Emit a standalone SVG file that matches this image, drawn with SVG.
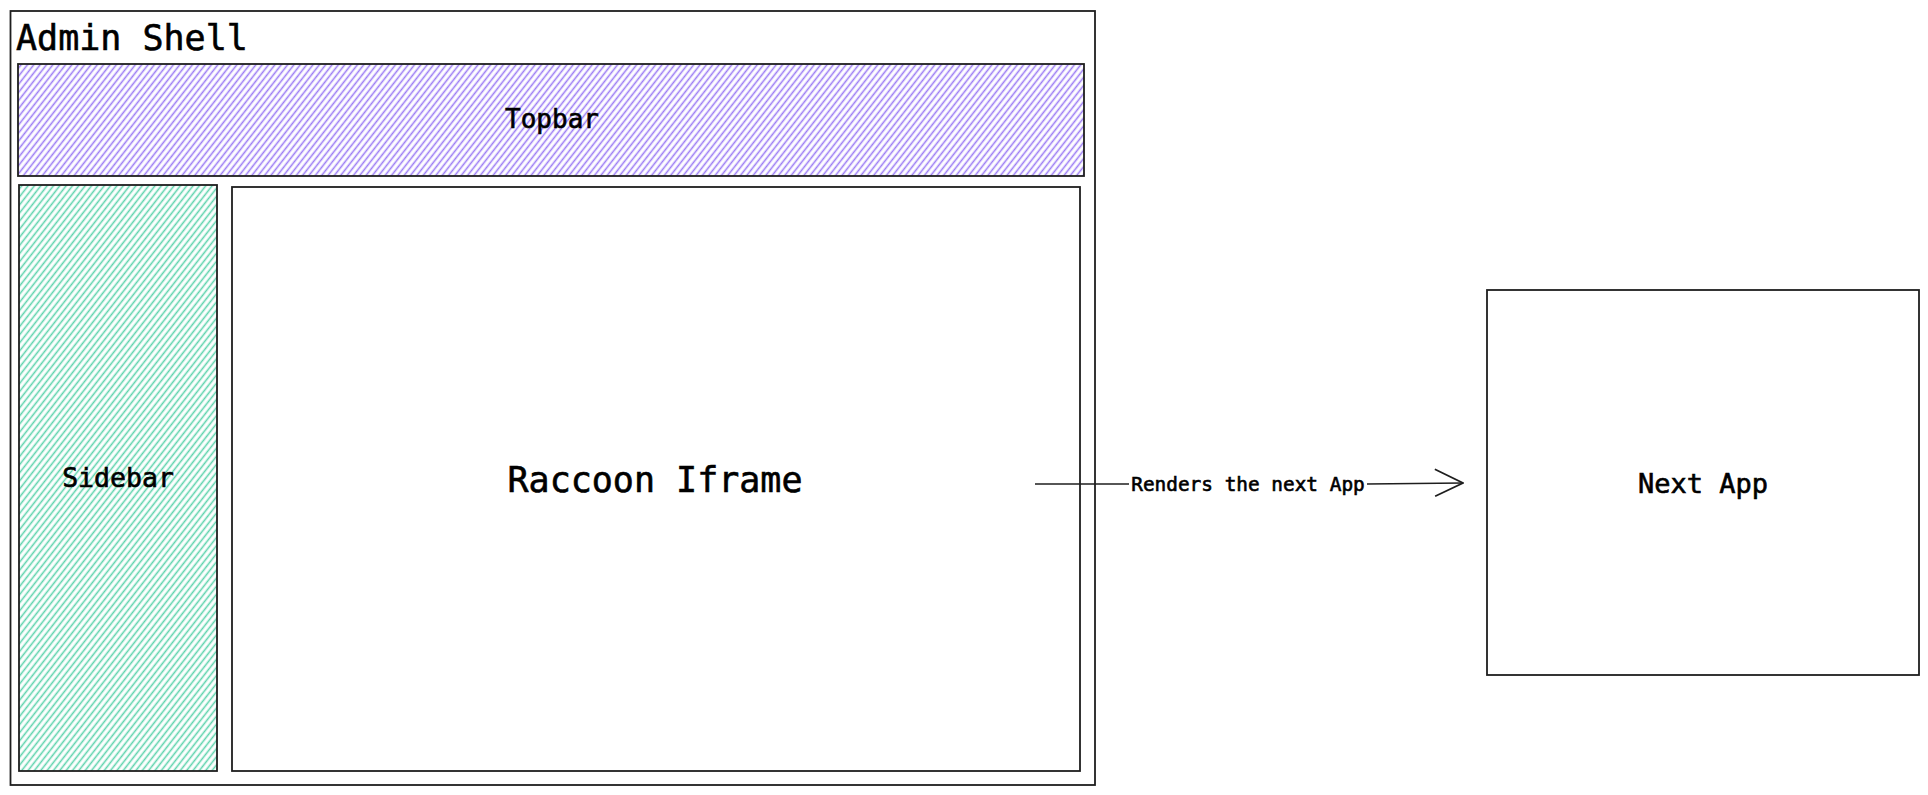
<svg xmlns="http://www.w3.org/2000/svg" width="1928" height="795" viewBox="0 0 1928 795">
  <defs>
    <pattern id="hatchPurple" width="5" height="10" patternUnits="userSpaceOnUse" patternTransform="rotate(38)">
      <line x1="1.5" y1="0" x2="1.5" y2="10" stroke="#9b7cf4" stroke-width="1.6"/>
    </pattern>
    <pattern id="hatchGreen" width="5" height="10" patternUnits="userSpaceOnUse" patternTransform="rotate(38)">
      <line x1="1.5" y1="0" x2="1.5" y2="10" stroke="#5ed3ac" stroke-width="1.6"/>
    </pattern>
    <marker id="arrowOpen" viewBox="0 0 30 30" refX="29" refY="15" markerWidth="30" markerHeight="30" markerUnits="userSpaceOnUse" orient="auto">
      <path d="M1,1 L29,15 L1,28" fill="none" stroke="#1e1e1e" stroke-width="1.8"/>
    </marker>
  </defs>
  <style>
    .box { fill: none; stroke: #1e1e1e; stroke-width: 1.8; }
    .txt { font-family: "DejaVu Sans Mono", "Liberation Mono", monospace; fill: #000000; stroke: #000000; stroke-width: 0.6; }
    .mid { text-anchor: middle; }
    .edge { fill: none; stroke: #1e1e1e; stroke-width: 1.6; }
  </style>
  <rect width="1928" height="795" fill="#ffffff"/>

  <g id="admin-shell">
    <rect class="box" x="10.5" y="11" width="1084.5" height="774"/>
    <text class="txt" x="16" y="50" font-size="35">Admin Shell</text>
  </g>

  <g id="topbar">
    <rect x="18" y="64" width="1066" height="112" fill="url(#hatchPurple)"/>
    <rect class="box" x="18" y="64" width="1066" height="112"/>
    <text class="txt mid" x="552" y="128" font-size="26">Topbar</text>
  </g>

  <g id="sidebar">
    <rect x="19" y="185" width="198" height="586" fill="url(#hatchGreen)"/>
    <rect class="box" x="19" y="185" width="198" height="586"/>
    <text class="txt mid" x="118" y="487" font-size="26.5">Sidebar</text>
  </g>

  <g id="raccoon-iframe">
    <rect class="box" x="232" y="187" width="848" height="584"/>
    <text class="txt mid" x="655" y="492" font-size="35">Raccoon Iframe</text>
  </g>

  <g id="next-app">
    <rect class="box" x="1487" y="290" width="432" height="385"/>
    <text class="txt mid" x="1703" y="493" font-size="27">Next App</text>
  </g>

  <g id="connectors">
    <line class="edge" x1="1035" y1="484" x2="1129" y2="484"/>
    <line class="edge" x1="1367" y1="484" x2="1463" y2="483" marker-end="url(#arrowOpen)"/>
    <text class="txt mid" x="1248" y="491" font-size="19.4" stroke-width="0.4">Renders the next App</text>
  </g>
</svg>
